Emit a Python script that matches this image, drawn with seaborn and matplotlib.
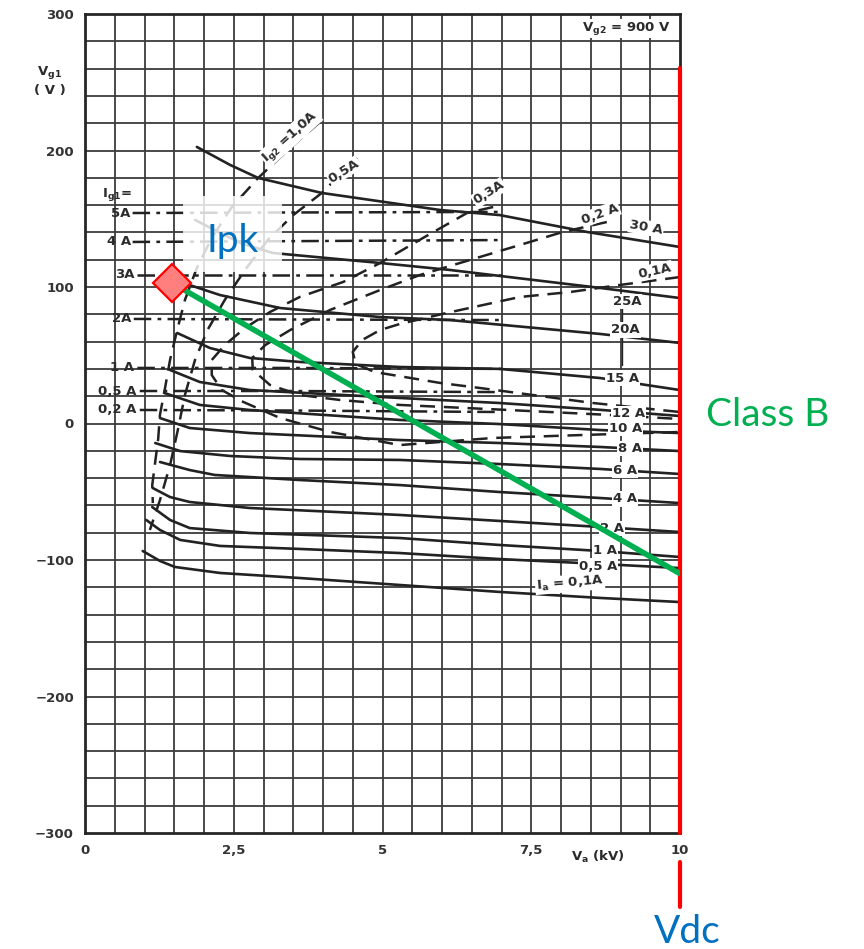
import numpy as np
import matplotlib.pyplot as plt
import seaborn as sns
from matplotlib.patches import Rectangle

sns.set_theme(style="white")
plt.rcParams['font.family'] = ['DejaVu Sans']

# ---- anode current curves Ia (solid): Va in kV, Vg1 in V ----
ia_curves = {
    "30": ([1.88, 2.44, 2.91, 3.98, 5.97, 6.97, 8.44, 10.0],
           [202.6, 189.4, 179.9, 168.9, 156.4, 152.7, 140.3, 129.3]),
    "25": ([1.85, 2.61, 3.16, 4.96, 6.13, 8.66, 10.0],
           [149.1, 132.2, 124.9, 117.6, 112.5, 99.3, 91.9]),
    "20": ([1.60, 2.27, 3.28, 4.96, 6.13, 8.66, 10.0],
           [103.7, 94.1, 84.6, 78.0, 75.8, 65.6, 59.0]),
    "15": ([1.55, 2.10, 2.77, 3.61, 5.29, 6.97, 8.66, 10.0],
           [66.3, 55.3, 48.0, 45.1, 41.4, 40.0, 33.3, 24.5]),
    "12": ([1.43, 1.93, 2.77, 5.29, 6.97, 8.66, 10.0],
           [39.2, 30.4, 24.5, 18.7, 15.0, 10.0, 5.5]),
    "10": ([1.34, 1.93, 2.77, 5.29, 6.97, 8.66, 10.0],
           [22.3, 13.6, 9.9, 2.6, -0.4, -4.8, -7.0]),
    "8": ([1.26, 1.76, 2.77, 5.29, 6.97, 8.66, 10.0],
          [4.0, -3.3, -7.0, -12.1, -14.3, -17.2, -20.2]),
    "6": ([1.18, 1.60, 2.44, 3.61, 5.29, 6.97, 8.66, 10.0],
          [-14.3, -20.2, -23.8, -26.0, -26.7, -29.7, -33.3, -37.0]),
    "4": ([1.26, 1.76, 2.18, 3.61, 5.29, 6.97, 8.66, 10.0],
          [-28.2, -34.1, -37.7, -41.4, -45.1, -50.2, -54.6, -58.3]),
    "2": ([1.14, 1.43, 1.76, 2.77, 5.29, 6.97, 8.66, 10.0],
          [-47.3, -53.9, -57.5, -61.9, -67.0, -71.4, -75.8, -79.5]),
    "1": ([1.13, 1.43, 1.76, 2.77, 5.29, 6.97, 8.66, 10.0],
          [-61.2, -70.7, -76.6, -80.2, -83.9, -89.0, -93.4, -97.8]),
    "0.5": ([1.03, 1.26, 1.60, 2.27, 3.61, 5.29, 6.97, 8.66, 10.0],
            [-70.7, -78.0, -85.3, -89.7, -91.9, -94.9, -99.3, -102.9, -105.9]),
    "0.1": ([0.97, 1.26, 1.51, 2.27, 3.61, 5.29, 6.97, 8.66, 10.0],
            [-93.4, -100.7, -105.1, -109.5, -113.2, -118.3, -123.4, -127.8, -130.8]),
}

# ---- control grid current Ig1 (dash-dot, nearly level) ----
ig1_curves = {
    "5A": ([0.80, 3.5, 7.0], [154.2, 154.6, 155.0]),
    "4 A": ([0.80, 3.5, 7.0], [133.0, 133.6, 134.4]),
    "3A": ([0.88, 3.5, 7.0], [108.8, 108.8, 108.8]),
    "2A": ([0.82, 3.5, 7.0], [76.6, 76.2, 75.8]),
    "1 A": ([0.88, 3.5, 7.0], [40.7, 40.7, 40.0]),
    "0,5 A": ([0.92, 3.5, 7.0], [23.8, 23.8, 23.0]),
    "0,2 A": ([0.92, 3.5, 7.0], [9.9, 9.5, 8.4]),
}

# ---- screen grid current Ig2 (dashed loops) ----
ig2_curves = {
    "1.0": ([3.95, 3.45, 2.91, 2.47, 2.13, 1.88, 1.68, 1.55, 1.43, 1.34, 1.26, 1.23, 1.18, 1.13, 1.14],
            [220.9, 201.9, 179.9, 158.7, 136.0, 114.0, 90.6, 68.6, 46.7, 24.7, 6.4, -11.3, -28.2, -45.1, -58.3]),
    "0.5": ([4.57, 3.98, 3.50, 3.07, 2.69, 2.35, 2.06, 1.85, 1.68, 1.56, 1.43, 1.26, 1.09],
            [194.6, 168.9, 152.7, 134.4, 112.5, 90.6, 68.6, 46.7, 21.0, -4.8, -30.4, -56.1, -78.0]),
    "0.3": ([6.86, 6.42, 5.68, 4.96, 4.34, 3.61, 3.11, 2.69, 2.35, 2.13, 2.13, 2.30, 2.66, 3.28, 4.12, 5.29, 6.86, 8.38, 10.0],
            [158.6, 154.2, 135.9, 117.6, 103.7, 92.7, 81.7, 70.0, 57.5, 46.5, 35.5, 24.5, 15.8, 4.0, -6.2, -15.8, -10.6, -8.4, -6.2]),
    "0.2": ([8.77, 8.03, 7.31, 6.47, 5.63, 4.96, 4.12, 3.45, 3.03, 2.81, 2.82, 3.11, 3.61, 4.29, 5.29, 6.97, 8.66, 10.0],
            [147.6, 140.3, 130.8, 119.8, 108.8, 97.8, 83.2, 68.5, 57.5, 48.0, 39.2, 28.2, 20.9, 17.2, 13.6, 10.2, 6.6, 3.3]),
    "0.1": ([10.0, 8.99, 8.15, 7.31, 6.08, 5.29, 4.96, 4.66, 4.50, 4.55, 4.87, 5.97, 6.64, 8.54, 10.0],
            [107.3, 101.5, 96.3, 92.7, 81.0, 72.9, 68.5, 61.2, 52.4, 43.6, 37.7, 29.7, 26.0, 15.0, 8.4]),
}

# load line from the peak point to the supply voltage
ipk = (1.46, 103.0)
vdc_end = (10.0, -110.0)
vdc = 10.0

x_ticks = [0, 2.5, 5, 7.5, 10]
x_tick_labels = ["0", "2,5", "5", "7,5", "10"]
y_ticks = [300, 200, 100, 0, -100, -200, -300]
y_tick_labels = ["300", "200", "100", "0", "\u2212100", "\u2212200", "\u2212300"]

ink = "#222222"

fig = plt.figure(figsize=(8.64, 9.49), dpi=100)
ax = fig.add_axes([85 / 864, 1 - 833 / 949, 595 / 864, 819 / 949])
ax.set_xlim(0, 10)
ax.set_ylim(-300, 300)

# graph-paper grid: 0.5 kV by 20 V
for gx in np.arange(0.5, 10.0, 0.5):
    ax.axvline(gx, color="#3c3c3c", lw=1.3, zorder=1)
for gy in np.arange(-280, 300, 20):
    ax.axhline(gy, color="#3c3c3c", lw=1.3, zorder=1)
for s in ax.spines.values():
    s.set_color("#262626")
    s.set_linewidth(2.0)

ax.set_xticks(x_ticks)
ax.set_xticklabels(x_tick_labels)
ax.set_yticks(y_ticks)
ax.set_yticklabels(y_tick_labels)
ax.tick_params(length=0, labelsize=9.5, colors="#333333", pad=8)
for t in ax.get_xticklabels() + ax.get_yticklabels():
    t.set_fontweight("bold")

def draw(curves, ls, lw):
    for name, (xs, ys) in curves.items():
        sns.lineplot(x=xs, y=ys, sort=False, estimator=None, ax=ax,
                     color=ink, lw=lw, linestyle=ls, zorder=3)

draw(ia_curves, "-", 1.9)
draw(ig1_curves, (0, (7, 2.5, 1.5, 2.5)), 1.8)
draw(ig2_curves, (0, (6, 3.5)), 1.8)

lab = dict(color="#2b2b2b", fontsize=9.5, fontweight="bold", zorder=5)
box = dict(boxstyle="square,pad=0.08", fc="white", ec="none")

# Ia labels on the right
ia_labels = [("30 A", 9.43, 143.5, -10), ("25A", 9.11, 89.7, 0), ("20A", 9.08, 68.5, 0),
             ("15 A", 9.03, 33.3, 0), ("12 A", 9.13, 7.0, 0), ("10 A", 9.08, -3.3, 0),
             ("8 A", 9.16, -18.0, 0), ("6 A", 9.08, -34.1, 0), ("4 A", 9.08, -55.3, 0),
             ("2 A", 8.86, -76.6, 0), ("1 A", 8.74, -92.7, 0), ("0,5 A", 8.62, -104.4, 0),
             (r"$\mathregular{I_a}$ = 0,1A", 8.15, -117.2, 5)]
for txt, lx, ly, rot in ia_labels:
    ax.text(lx, ly, txt, ha="center", va="center", rotation=rot, bbox=box, **lab)
ax.plot([9.03, 9.03], [85.4, 42.9], color=ink, lw=1.0, zorder=4)

# Ig1 labels on the left
ig1_labels = [(r"$\mathregular{I_{g1}}$=", 0.80, 167.4), ("5A", 0.77, 154.2), ("4 A", 0.77, 133.0),
              ("3A", 0.83, 108.8), ("2A", 0.78, 76.6), ("1 A", 0.82, 40.7),
              ("0,5 A", 0.86, 23.8), ("0,2 A", 0.86, 9.9)]
for txt, lx, ly in ig1_labels:
    ax.text(lx, ly, txt, ha="right", va="center", **lab)

# Ig2 labels along the dashed curves
ig2_labels = [(r"$\mathregular{I_{g2}}$ =1,0A", 3.45, 210.0, 42), ("0,5A", 4.35, 185.0, 32),
              ("0,3A", 6.79, 169.0, 32), ("0,2 A", 8.66, 153.5, 20), ("0,1A", 9.58, 111.7, 12)]
for txt, lx, ly, rot in ig2_labels:
    ax.text(lx, ly, txt, ha="center", va="center", rotation=rot, bbox=box, **lab)

ax.text(9.09, 289.7, r"$\mathregular{V_{g2}}$ = 900 V", ha="center", va="center", bbox=box, **lab)
ax.text(-0.59, 256.8, r"$\mathregular{V_{g1}}$", ha="center", va="center", clip_on=False, **lab)
ax.text(-0.59, 244.0, "( V )", ha="center", va="center", clip_on=False, **lab)
ax.text(8.62, -317.6, r"$\mathregular{V_a}$ (kV)", ha="center", va="center", clip_on=False, **lab)

# annotations: peak point, load line, supply voltage
ax.add_patch(Rectangle((1.65, 111.0), 1.66, 55.7, fc="white", ec="none", alpha=0.82, zorder=6))
ax.text(2.48, 134.0, "Ipk", color="#0070C0", fontsize=28, ha="center", va="center",
        family=["Lato", "DejaVu Sans"], zorder=7)

ax.plot([vdc, vdc], [260.4, -300], color="#FF0000", lw=3, zorder=8, clip_on=False)
ax.plot([vdc, vdc], [-321.3, -354.2], color="#FF0000", lw=3, zorder=8, clip_on=False)
sns.lineplot(x=[ipk[0], vdc_end[0]], y=[ipk[1], vdc_end[1]], ax=ax, color="#00B050",
             lw=4, sort=False, estimator=None, zorder=9)
ax.plot([ipk[0]], [ipk[1]], marker="D", markersize=19, mfc="#FF7F7F", mec="#FF0000",
        mew=1.6, zorder=10, clip_on=False)

ax.text(11.48, 6.2, "Class B", color="#00B050", fontsize=28, ha="center", va="center",
        family=["Lato", "DejaVu Sans"], clip_on=False)
ax.text(10.13, -372.5, "Vdc", color="#0070C0", fontsize=28, ha="center", va="center",
        family=["Lato", "DejaVu Sans"], clip_on=False)

fig.savefig("out.png", dpi=100)
